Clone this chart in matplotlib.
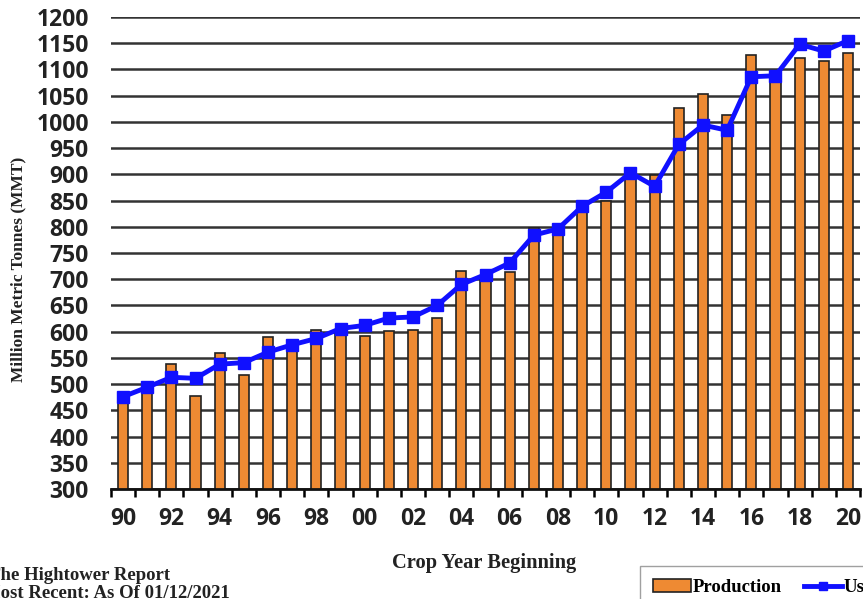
import matplotlib.pyplot as plt
from matplotlib.ticker import FixedLocator
from matplotlib.lines import Line2D
from matplotlib.patches import Patch

years = list(range(1990, 2021))
year_labels = ["90", "92", "94", "96", "98", "00", "02", "04", "06", "08",
               "10", "12", "14", "16", "18", "20"]
production = [466, 487, 538, 478, 560, 518, 590, 578, 604, 601, 592, 601, 603, 627,
              715, 700, 714, 797, 792, 828, 850, 895, 899, 1026, 1054, 1013, 1128,
              1079, 1122, 1116, 1132]
usage = [476, 494, 513, 511, 538, 541, 561, 575, 587, 606, 612, 626, 628, 650,
         690, 709, 731, 784, 796, 839, 866, 903, 877, 957, 994, 984, 1086, 1088,
         1148, 1135, 1155]

fig = plt.figure(figsize=(8.63, 5.99), dpi=100)
ax = fig.add_axes([111 / 863, 110 / 599, 749 / 863, 472 / 599])

# bars + usage line
ax.bar(years, production, width=0.42, color="#EE8A33", edgecolor="#222222",
       linewidth=1.2, zorder=2)
ax.plot(years, usage, color="#1010FF", linewidth=3.5, marker="s", markersize=8,
        zorder=3)

ax.set_xlim(1989.5, 2020.5)
ax.set_ylim(300, 1200)
ax.set_yticks(range(300, 1201, 50))
ax.yaxis.grid(True, color="#333333", linewidth=1.8, zorder=0)
ax.set_axisbelow(True)

# labels every 2 years, small ticks between the bars
ax.set_xticks(years[::2])
ax.set_xticklabels(year_labels)
ax.xaxis.set_minor_locator(FixedLocator([y - 0.5 for y in years] + [2020.5]))
ax.tick_params(axis="x", which="major", length=0, pad=13)
ax.tick_params(axis="x", which="minor", length=6, width=1.8, direction="out")
ax.tick_params(axis="y", length=0, pad=16)
for lbl in ax.get_xticklabels() + ax.get_yticklabels():
    lbl.set_fontfamily("Open Sans")
    lbl.set_fontweight("bold")
    lbl.set_fontsize(16.5)
    lbl.set_color("#222222")

for s in ["top", "right", "left"]:
    ax.spines[s].set_visible(False)
ax.spines["bottom"].set_linewidth(2)
ax.spines["bottom"].set_color("#111111")

ax.set_ylabel("Million Metric Tonnes (MMT)", family="Liberation Serif",
              fontweight="bold", fontsize=12.5, color="#222222")
ax.yaxis.set_label_coords(-0.113, 0.466)

fig.text(484 / 863, 1 - 563 / 599, "Crop Year Beginning", family="Liberation Serif",
         fontweight="bold", fontsize=14.8, color="#222222", ha="center", va="center")
fig.text(-12 / 863, 1 - 576 / 599, "The Hightower Report", family="Liberation Serif",
         fontweight="bold", fontsize=13.5, color="#222222", ha="left", va="center")
fig.text(-17 / 863, 1 - 593 / 599, "Most Recent: As Of 01/12/2021", family="Liberation Serif",
         fontweight="bold", fontsize=13.5, color="#222222", ha="left", va="center")

handles = [Patch(facecolor="#EE8A33", edgecolor="#222222", linewidth=1.2),
           Line2D([], [], color="#1010FF", linewidth=3.5, marker="s", markersize=6)]
fig.legend(handles, ["Production", "Usage"], loc="upper left",
           bbox_to_anchor=(640 / 863, 1 - 566 / 599), ncol=2, frameon=True,
           fancybox=False, edgecolor="#888888", handlelength=2.0,
           handletextpad=0.1, columnspacing=1.2, borderpad=0.7, borderaxespad=0,
           prop={"family": "Liberation Serif", "weight": "bold", "size": 13.5})

fig.savefig("out.png", dpi=100)
